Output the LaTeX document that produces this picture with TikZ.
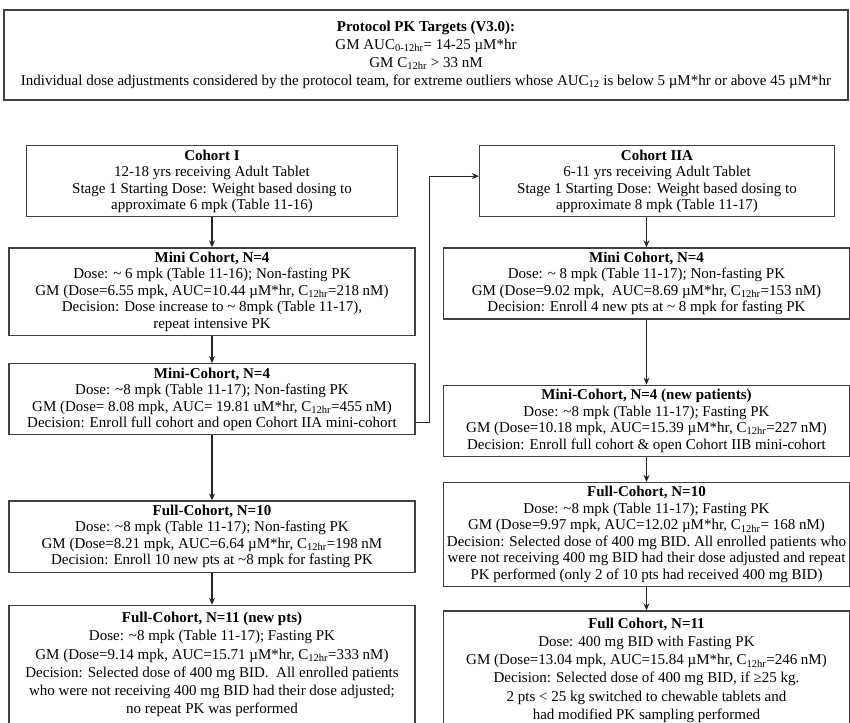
\documentclass[tikz,border=0pt]{standalone}
\usepackage{fontspec}
\setmainfont{Liberation Serif}
\usetikzlibrary{arrows.meta, positioning}
\tikzset{
  pk box/.style={
    rectangle, draw=black!75, line width=1.2pt, fill=white,
    minimum width=406pt, align=center,
    font=\fontsize{15}{16.5}\selectfont,
    inner xsep=3pt, inner ysep=4pt
  },
  pk start/.style={
    pk box, minimum width=#1
  },
  pk last/.style={
    pk box, font=\fontsize{15}{18.2}\selectfont, inner ysep=7pt
  },
  pk target/.style={
    pk box, minimum width=844pt, minimum height=90pt,
    font=\fontsize{15}{18}\selectfont
  },
  pk arrow/.style={
    -{Stealth[length=7pt, width=6pt]}, line width=1.2pt, draw=black!85
  }
}

\begin{document}
\begin{tikzpicture}[x=1pt, y=1pt, node distance=30pt]
  \useasboundingbox (0,0) rectangle (850,-722);

  \node (targets) [pk target] at (426,-55) {\textbf{Protocol PK Targets (V3.0):}\\
    GM AUC\textsubscript{0-12hr}= 14-25 µM*hr\\
    GM C\textsubscript{12hr} > 33 nM\\
    Individual dose adjustments considered by the protocol team, for extreme outliers whose AUC\textsubscript{12} is below 5 µM*hr or above 45 µM*hr};

  % Cohort I column
  \node (cohortI) [pk start=371pt, anchor=north] at (212,-145) {\textbf{Cohort I}\\
    12-18 yrs receiving Adult Tablet\\
    Stage 1 Starting Dose: Weight based dosing to\\
    approximate 6 mpk (Table 11-16)};
  \node (miniA) [pk box, below=30pt of cohortI] {\textbf{Mini Cohort, N=4}\\
    Dose: \textasciitilde{} 6 mpk (Table 11-16); Non-fasting PK\\
    GM (Dose=6.55 mpk, AUC=10.44 µM*hr, C\textsubscript{12hr}=218 nM)\\
    Decision: Dose increase to \textasciitilde{} 8mpk (Table 11-17),\\
    repeat intensive PK};
  \node (miniA2) [pk box, below=27pt of miniA] {\textbf{Mini-Cohort, N=4}\\
    Dose: \textasciitilde8 mpk (Table 11-17); Non-fasting PK\\
    GM (Dose= 8.08 mpk, AUC= 19.81 uM*hr, C\textsubscript{12hr}=455 nM)\\
    Decision: Enroll full cohort and open Cohort IIA mini-cohort};
  \node (fullA) [pk box, below=65pt of miniA2] {\textbf{Full-Cohort, N=10}\\
    Dose: \textasciitilde8 mpk (Table 11-17); Non-fasting PK\\
    GM (Dose=8.21 mpk, AUC=6.64 µM*hr, C\textsubscript{12hr}=198 nM\\
    Decision: Enroll 10 new pts at \textasciitilde8 mpk for fasting PK};
  \node (fullA2) [pk last, below=32pt of fullA] {\textbf{Full-Cohort, N=11 (new pts)}\\
    Dose: \textasciitilde8 mpk (Table 11-17); Fasting PK\\
    GM (Dose=9.14 mpk, AUC=15.71 µM*hr, C\textsubscript{12hr}=333 nM)\\
    Decision: Selected dose of 400 mg BID.\ \ All enrolled patients\\
    who were not receiving 400 mg BID had their dose adjusted;\\
    no repeat PK was performed};

  % Cohort IIA column
  \node (cohortIIA) [pk start=355pt, anchor=north] at (657,-145) {\textbf{Cohort IIA}\\
    6-11 yrs receiving Adult Tablet\\
    Stage 1 Starting Dose: Weight based dosing to\\
    approximate 8 mpk (Table 11-17)};
  \node (miniB) [pk box, below=30pt of cohortIIA, xshift=-10.5pt] {\textbf{Mini Cohort, N=4}\\
    Dose: \textasciitilde{} 8 mpk (Table 11-17); Non-fasting PK\\
    GM (Dose=9.02 mpk,\ \ AUC=8.69 µM*hr, C\textsubscript{12hr}=153 nM)\\
    Decision: Enroll 4 new pts at \textasciitilde{} 8 mpk for fasting PK};
  \node (miniB2) [pk box, below=65pt of miniB] {\textbf{Mini-Cohort, N=4 (new patients)}\\
    Dose: \textasciitilde8 mpk (Table 11-17); Fasting PK\\
    GM (Dose=10.18 mpk, AUC=15.39 µM*hr, C\textsubscript{12hr}=227 nM)\\
    Decision: Enroll full cohort \& open Cohort IIB mini-cohort};
  \node (fullB) [pk box, below=25pt of miniB2] {\textbf{Full-Cohort, N=10}\\
    Dose: \textasciitilde8 mpk (Table 11-17); Fasting PK\\
    GM (Dose=9.97 mpk, AUC=12.02 µM*hr, C\textsubscript{12hr}= 168 nM)\\
    Decision: Selected dose of 400 mg BID. All enrolled patients who\\
    were not receiving 400 mg BID had their dose adjusted and repeat\\
    PK performed (only 2 of 10 pts had received 400 mg BID)};
  \node (fullB2) [pk last, below=23pt of fullB] {\textbf{Full Cohort, N=11}\\
    Dose: 400 mg BID with Fasting PK\\
    GM (Dose=13.04 mpk, AUC=15.84 µM*hr, C\textsubscript{12hr}=246 nM)\\
    Decision: Selected dose of 400 mg BID, if ≥25 kg.\\
    2 pts < 25 kg switched to chewable tablets and\\
    had modified PK sampling performed};

  \draw [pk arrow] (cohortI) -- (miniA);
  \draw [pk arrow] (miniA) -- (miniA2);
  \draw [pk arrow] (miniA2) -- (fullA);
  \draw [pk arrow] (fullA) -- (fullA2);

  \draw [pk arrow] (cohortIIA.south -| miniB.north) -- (miniB.north);
  \draw [pk arrow] (miniB) -- (miniB2);
  \draw [pk arrow] (miniB2) -- (fullB);
  \draw [pk arrow] (fullB) -- (fullB2);

  % opens Cohort IIA
  \draw [pk arrow] ([yshift=-23pt]miniA2.east) -- ++(14pt,0) |- ([yshift=5pt]cohortIIA.west);
\end{tikzpicture}
\end{document}
